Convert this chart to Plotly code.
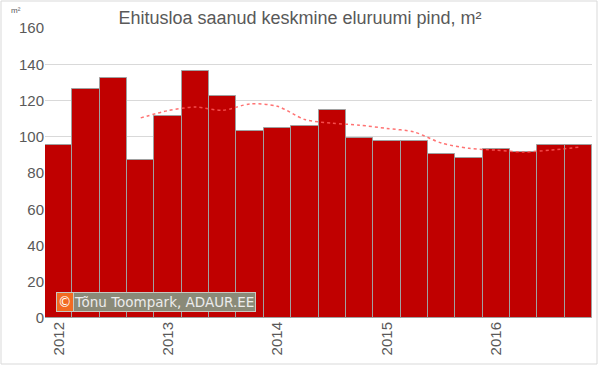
import plotly.graph_objects as go

quarters = list(range(1, 21))
area = [95.6, 126.1, 132.6, 87.2, 111.5, 136.2, 122.6, 103.1, 104.8, 106.0,
        114.8, 99.4, 97.6, 97.6, 90.4, 88.2, 93.5, 91.5, 95.7, 95.3]
trend = [None, None, None, 110.4, 114.4, 116.4, 114.6, 118.1, 116.8, 109.5,
         107.5, 106.4, 104.6, 102.6, 96.5, 93.6, 92.6, 91.6, 92.6, 94.2]
year_pos = [1, 5, 9, 13, 17]
year_labels = ["2012", "2013", "2014", "2015", "2016"]
y_ticks = [0, 20, 40, 60, 80, 100, 120, 140, 160]

W, H = 600, 366
L, R, T, B = 45, 8, 28, 48
pw, ph = W - L - R, H - T - B

def px(x):
    return (x - L) / pw

def py(y):
    return (H - B - y) / ph

fig = go.Figure()
fig.add_trace(go.Bar(
    x=quarters, y=area, width=1.0,
    marker=dict(color="#C00000", line=dict(color="#a0a0a0", width=1)),
    showlegend=False, hoverinfo="y"))
fig.add_trace(go.Scatter(
    x=quarters, y=trend, mode="lines",
    line=dict(color="rgba(255,90,90,0.85)", width=1.5, dash="dot",
              shape="spline", smoothing=0.8),
    showlegend=False, connectgaps=False))

fig.update_layout(
    width=W, height=H,
    margin=dict(l=L, r=R, t=T, b=B, autoexpand=False),
    paper_bgcolor="white", plot_bgcolor="white",
    font=dict(family="Liberation Sans, Arial, sans-serif", color="#595959"),
    title=dict(text="Ehitusloa saanud keskmine eluruumi pind, m²",
               x=0.5, xanchor="center", y=1 - 18 / H, yanchor="middle",
               xref="container",
               font=dict(size=18, color="#595959")),
    bargap=0,
    xaxis=dict(range=[0.5, 20.5], tickvals=year_pos, ticktext=year_labels,
               tickangle=-90, showgrid=False, zeroline=False, showline=False,
               ticks="", automargin=False,
               tickfont=dict(size=15, color="#595959")),
    yaxis=dict(range=[0, 160], tickvals=y_ticks, showgrid=True,
               gridcolor="#d9d9d9", gridwidth=1, zeroline=False,
               showline=False, ticks="", automargin=False,
               tickfont=dict(size=15, color="#595959")),
    shapes=[dict(type="rect", xref="paper", yref="paper",
                 x0=px(1), x1=px(597), y0=py(364), y1=py(1),
                 line=dict(color="#d9d9d9", width=1), fillcolor="rgba(0,0,0,0)",
                 layer="below")],
    annotations=[
        dict(text="m²", xref="paper", yref="paper", x=px(16), y=py(10),
             xanchor="center", yanchor="middle", showarrow=False,
             font=dict(size=8, color="#595959")),
        dict(text="Tõnu Toompark, ADAUR.EE", xref="paper", yref="paper",
             x=px(72), y=py(302), xanchor="left", yanchor="middle",
             showarrow=False, bgcolor="#8a8a78", bordercolor="#c8c8c0",
             borderwidth=1, borderpad=1,
             font=dict(family="DejaVu Sans, sans-serif", size=13.5, color="#ececec")),
        dict(text="©", xref="paper", yref="paper",
             x=px(56), y=py(302), xanchor="left", yanchor="middle",
             showarrow=False, bgcolor="#f26a21", bordercolor="#c8c8c0",
             borderwidth=1, borderpad=1,
             font=dict(family="DejaVu Sans, sans-serif", size=13.5, color="#ffffff")),
    ],
)

fig.write_html("out.html", config={"displayModeBar": False},
               post_script="document.body.style.margin='0';")
